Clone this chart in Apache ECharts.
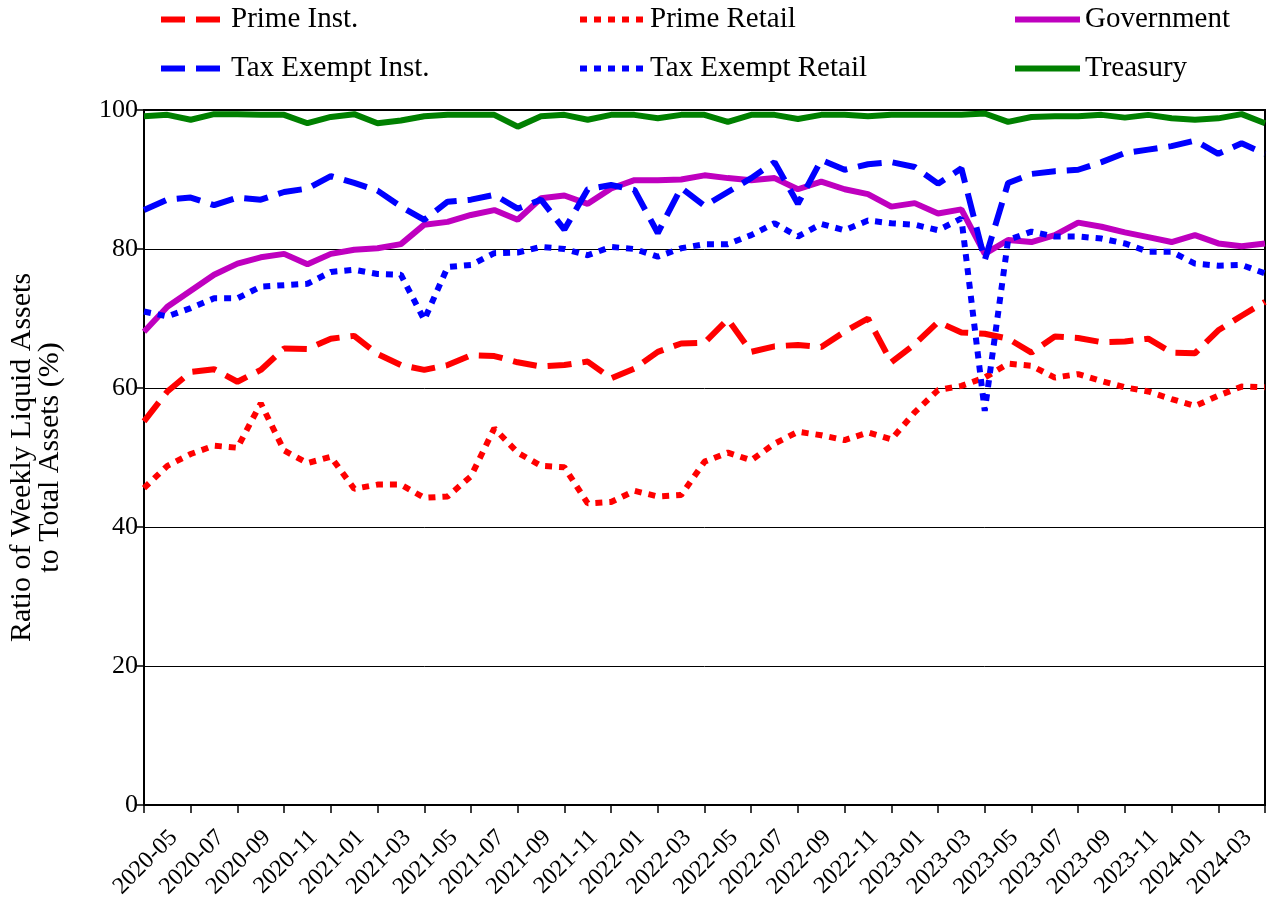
<!DOCTYPE html>
<html>
<head>
<meta charset="utf-8">
<script src="https://cdn.jsdelivr.net/npm/echarts@6/dist/echarts.min.js"></script>
<style>
  html, body { margin: 0; padding: 0; background: #fff; }
  #main { width: 1270px; height: 913px; }
</style>
</head>
<body>
<div id="main"></div>
<script>
// months, 2020-03 .. 2024-03
var months = [
  '2020-03', '2020-04', '2020-05', '2020-06', '2020-07', '2020-08', '2020-09', '2020-10', '2020-11', '2020-12',
  '2021-01', '2021-02', '2021-03', '2021-04', '2021-05', '2021-06', '2021-07', '2021-08', '2021-09', '2021-10',
  '2021-11', '2021-12', '2022-01', '2022-02', '2022-03', '2022-04', '2022-05', '2022-06', '2022-07', '2022-08',
  '2022-09', '2022-10', '2022-11', '2022-12', '2023-01', '2023-02', '2023-03', '2023-04', '2023-05', '2023-06',
  '2023-07', '2023-08', '2023-09', '2023-10', '2023-11', '2023-12', '2024-01', '2024-02', '2024-03'
];

var primeInst = [55.2, 59.5, 62.3, 62.7, 60.9, 62.6, 65.7, 65.6, 67.1, 67.5,
  64.9, 63.3, 62.6, 63.3, 64.7, 64.6, 63.7, 63.1, 63.3, 63.8,
  61.4, 62.8, 65.2, 66.4, 66.5, 69.9, 65.2, 66.0, 66.2, 65.9,
  68.1, 70.0, 63.7, 66.3, 69.5, 68.0, 67.8, 67.1, 65.1, 67.4,
  67.2, 66.6, 66.7, 67.1, 65.1, 65.0, 68.3, 70.4, 72.4];

var primeRetail = [45.6, 48.8, 50.5, 51.7, 51.4, 57.8, 51.0, 49.2, 50.1, 45.5,
  46.1, 46.1, 44.2, 44.4, 47.3, 54.2, 50.7, 48.8, 48.6, 43.4,
  43.6, 45.2, 44.4, 44.6, 49.4, 50.7, 49.6, 52.0, 53.7, 53.2,
  52.5, 53.6, 52.6, 56.5, 59.7, 60.3, 61.5, 63.5, 63.2, 61.5,
  62.0, 61.0, 60.1, 59.5, 58.4, 57.4, 58.9, 60.2, 60.1];

var government = [68.1, 71.7, 74.0, 76.3, 77.9, 78.8, 79.3, 77.8, 79.3, 79.9,
  80.1, 80.7, 83.5, 83.9, 84.9, 85.6, 84.2, 87.3, 87.7, 86.5,
  88.7, 89.9, 89.9, 90.0, 90.6, 90.2, 89.9, 90.2, 88.6, 89.7,
  88.6, 87.9, 86.1, 86.6, 85.1, 85.7, 79.3, 81.3, 81.0, 82.0,
  83.8, 83.2, 82.4, 81.7, 81.0, 82.0, 80.8, 80.4, 80.8];

var taxExemptInst = [85.6, 87.1, 87.4, 86.3, 87.4, 87.1, 88.2, 88.7, 90.5, 89.5,
  88.4, 86.1, 84.2, 86.8, 87.1, 87.8, 85.8, 87.1, 82.8, 88.6,
  89.2, 88.5, 82.3, 88.8, 86.2, 88.2, 90.2, 92.5, 86.5, 92.8,
  91.4, 92.2, 92.5, 91.8, 89.4, 91.6, 78.4, 89.5, 90.8, 91.2,
  91.4, 92.5, 93.8, 94.3, 94.8, 95.6, 93.7, 95.2, 93.7];

var taxExemptRetail = [71.0, 70.3, 71.5, 72.9, 72.9, 74.6, 74.8, 75.0, 76.7, 77.0,
  76.4, 76.3, 69.8, 77.4, 77.7, 79.4, 79.5, 80.3, 80.0, 79.1,
  80.3, 80.0, 78.9, 80.1, 80.7, 80.7, 82.0, 83.7, 81.8, 83.6,
  82.7, 84.1, 83.7, 83.5, 82.7, 84.4, 56.7, 81.3, 82.5, 81.8,
  81.8, 81.5, 80.8, 79.6, 79.6, 77.9, 77.6, 77.7, 76.5];

var treasury = [99.1, 99.3, 98.6, 99.4, 99.4, 99.3, 99.3, 98.1, 99.0, 99.4,
  98.1, 98.5, 99.1, 99.3, 99.3, 99.3, 97.6, 99.1, 99.3, 98.6,
  99.3, 99.3, 98.8, 99.3, 99.3, 98.3, 99.3, 99.3, 98.7, 99.3,
  99.3, 99.1, 99.3, 99.3, 99.3, 99.3, 99.5, 98.3, 99.0, 99.1,
  99.1, 99.3, 98.9, 99.3, 98.8, 98.6, 98.8, 99.4, 98.1];

var yTicks = [0, 20, 40, 60, 80, 100];

var FONT = 'Liberation Serif';
var DASH = [24, 11];
var DOT = [7, 7];

var myChart = echarts.init(document.getElementById('main'));

function mkLegend(name, left, top) {
  return {
    data: [name],
    left: left,
    top: top,
    padding: 0,
    itemWidth: 65,
    itemHeight: 12,
    itemGap: 0,
    itemStyle: { opacity: 0 },
    lineStyle: { width: 6 },
    textStyle: { fontFamily: FONT, fontSize: 29, color: '#000' }
  };
}

function mkLine(name, data, color, type) {
  return {
    name: name,
    type: 'line',
    data: data,
    symbol: 'none',
    silent: true,
    color: color,
    lineStyle: { width: 6, color: color, type: type, cap: 'butt' }
  };
}

myChart.setOption({
  animation: false,
  backgroundColor: '#fff',
  legend: [
    mkLegend('Prime Inst.', 158, 5),
    mkLegend('Prime Retail', 577, 5),
    mkLegend('Government', 1012, 5),
    mkLegend('Tax Exempt Inst.', 158, 54),
    mkLegend('Tax Exempt Retail', 577, 54),
    mkLegend('Treasury', 1012, 54)
  ],
  grid: {
    left: 144,
    right: 5,
    top: 110,
    bottom: 108,
    outerBoundsMode: 'none',
    containLabel: false,
    show: true,
    borderColor: '#000',
    borderWidth: 2,
    backgroundColor: 'transparent'
  },
  xAxis: {
    type: 'category',
    data: months,
    boundaryGap: false,
    axisLine: { lineStyle: { color: '#000', width: 2 } },
    axisTick: {
      length: 8,
      lineStyle: { color: '#000', width: 1.5 },
      interval: function (index) { return index % 2 === 0; }
    },
    axisLabel: {
      rotate: 45,
      margin: 12,
      fontFamily: FONT,
      fontSize: 24,
      color: '#000',
      interval: function (index) { return index % 2 === 0 && index > 0; },
      // trailing spaces pull the rotated label down-left, like the original
      formatter: function (v) { return v + '    '; }
    },
    splitLine: { show: false }
  },
  yAxis: {
    type: 'value',
    min: yTicks[0],
    max: yTicks[yTicks.length - 1],
    interval: 20,
    name: 'Ratio of Weekly Liquid Assets\nto Total Assets (%)',
    nameLocation: 'middle',
    nameGap: 80,
    nameTextStyle: { fontFamily: FONT, fontSize: 30, color: '#000', lineHeight: 28 },
    axisLine: { show: true, lineStyle: { color: '#000', width: 2 } },
    axisTick: { show: true, length: 8, lineStyle: { color: '#000', width: 1.5 } },
    axisLabel: { fontFamily: FONT, fontSize: 26, color: '#000', margin: 6 },
    splitLine: { show: true, lineStyle: { color: '#000', width: 1 } }
  },
  series: [
    mkLine('Prime Inst.', primeInst, '#ff0000', DASH),
    mkLine('Prime Retail', primeRetail, '#ff0000', DOT),
    mkLine('Government', government, '#bf00bf', 'solid'),
    mkLine('Tax Exempt Inst.', taxExemptInst, '#0000ff', DASH),
    mkLine('Tax Exempt Retail', taxExemptRetail, '#0000ff', DOT),
    mkLine('Treasury', treasury, '#008000', 'solid')
  ]
});
</script>
</body>
</html>
